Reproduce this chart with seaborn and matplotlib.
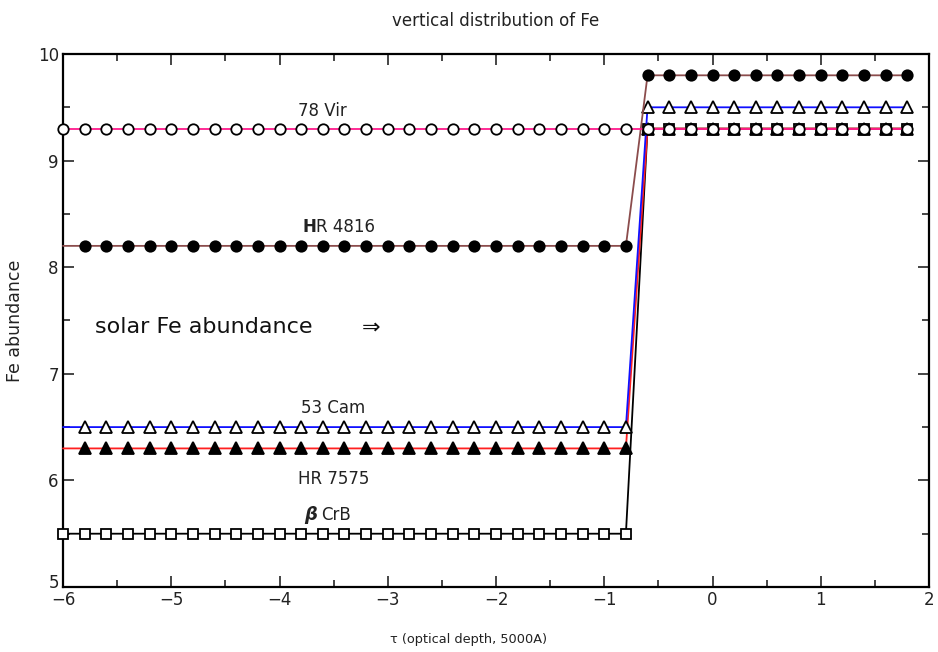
import numpy as np
import pandas as pd
import matplotlib
matplotlib.use("Agg")
import matplotlib.pyplot as plt
from matplotlib.transforms import ScaledTranslation
import seaborn as sns

# optical depth grid (log tau)
tau = [-6.0, -5.8, -5.6, -5.4, -5.2, -5.0, -4.8, -4.6, -4.4, -4.2,
       -4.0, -3.8, -3.6, -3.4, -3.2, -3.0, -2.8, -2.6, -2.4, -2.2,
       -2.0, -1.8, -1.6, -1.4, -1.2, -1.0, -0.8,
       -0.6, -0.4, -0.2, 0.0, 0.2, 0.4, 0.6, 0.8, 1.0, 1.2, 1.4, 1.6, 1.8]
step_at = -0.7

stars = ["78 Vir", "HR 4816", "53 Cam", "HR 7575", "β CrB"]
fe_upper = [9.3, 8.2, 6.5, 6.3, 5.5]   # above the step (tau < -0.7)
fe_lower = [9.3, 9.8, 9.5, 9.3, 9.3]   # below the step

colors = {"78 Vir": "#ff1a8c", "HR 4816": "#8b4c4c", "53 Cam": "#1010ff",
          "HR 7575": "#ff2020", "β CrB": "#000000"}
markers = {"78 Vir": "o", "HR 4816": "o", "53 Cam": "^", "HR 7575": "^", "β CrB": "s"}
mfc = {"78 Vir": "white", "HR 4816": "black", "53 Cam": "white",
       "HR 7575": "black", "β CrB": "white"}
msize = {"78 Vir": 7.5, "HR 4816": 7.5, "53 Cam": 8.5, "HR 7575": 8.5, "β CrB": 7.5}
first_marker = {"78 Vir": 0, "HR 4816": 1, "53 Cam": 1, "HR 7575": 1, "β CrB": 0}

rows = []
for s, up, lo in zip(stars, fe_upper, fe_lower):
    for t in tau:
        rows.append({"tau": t, "Fe": up if t < step_at else lo, "star": s})
df = pd.DataFrame(rows)

sns.set_style("white")
plt.rcParams['font.family'] = ['DejaVu Sans']

fig = plt.figure(figsize=(9.38, 6.52), dpi=100)
ax = fig.add_axes([63/938, 1-587/652, (929-63)/938, (587-54)/652])

order = ["β CrB", "HR 7575", "53 Cam", "HR 4816", "78 Vir"]
for s in order:
    d = df[df.star == s]
    sns.lineplot(data=d, x="tau", y="Fe", ax=ax, color=colors[s], lw=1.3,
                 marker=markers[s], markersize=msize[s], markerfacecolor=mfc[s],
                 markeredgecolor="black", markeredgewidth=1.3,
                 markevery=slice(first_marker[s], None), sort=False,
                 estimator=None, legend=False, clip_on=False, zorder=3)

ax.set_xlim(-6, 2)
ax.set_ylim(5, 10)
ax.set_xticks([-6, -5, -4, -3, -2, -1, 0, 1, 2])
ax.set_xticklabels(["\u22126", "\u22125", "\u22124", "\u22123", "\u22122", "\u22121", "0", "1", "2"])
ax.set_yticks([5, 6, 7, 8, 9, 10])
ax.set_xticks(np.arange(-5.5, 2, 1.0), minor=True)
ax.set_yticks(np.arange(5.5, 10, 1.0), minor=True)
ax.tick_params(which="major", direction="in", length=8, width=1.2, top=True, right=True,
               labelsize=12, labelcolor="#222222", pad=3, bottom=True, left=True)
ax.tick_params(which="minor", direction="in", length=5, width=1.2, top=True, right=True,
               bottom=True, left=True)
for sp in ax.spines.values():
    sp.set_visible(True)
    sp.set_color("black")
    sp.set_linewidth(1.6)

ax.set_xlabel("")
ax.set_ylabel("Fe abundance", fontsize=12.5, color="#222222", labelpad=10)
ax.set_title("vertical distribution of Fe", fontsize=12, color="#222222", pad=20)
fig.text(390/938, 1-643/652, "\u03c4 (optical depth, 5000A)", fontsize=9.3,
         color="#222222", ha="left", va="baseline")

tc = "#222222"
ax.text(-3.83, 9.42, "78 Vir", fontsize=12, color=tc, ha="left", va="baseline")
ax.text(-3.79, 8.33, "H", fontsize=12, color=tc, ha="left", va="baseline", fontweight="bold")
ax.text(-3.665, 8.33, "R 4816", fontsize=12, color=tc, ha="left", va="baseline")
ax.text(-5.70, 7.38, "solar Fe abundance", fontsize=16, color="#111111", ha="left", va="baseline")
ax.text(-3.24, 7.38, "\u21d2", fontsize=16, color="#111111", ha="left", va="baseline")
ax.text(-3.80, 6.63, "53 Cam", fontsize=12, color=tc, ha="left", va="baseline")
ax.text(-3.83, 5.97, "HR 7575", fontsize=12, color=tc, ha="left", va="baseline")
ax.text(-3.77, 5.63, "\u03b2", fontsize=13, color=tc, ha="left", va="baseline",
        fontweight="bold", fontstyle="italic")
ax.text(-3.62, 5.63, "CrB", fontsize=12, color=tc, ha="left", va="baseline")

fig.canvas.draw()
for lab in ax.get_yticklabels():
    if lab.get_text() == "5":
        lab.set_transform(lab.get_transform() + ScaledTranslation(0, 4/72, fig.dpi_scale_trans))

fig.savefig("out.png", dpi=100, facecolor="white")
